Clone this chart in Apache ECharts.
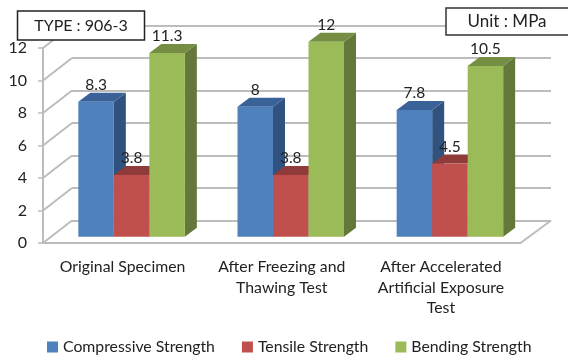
<!DOCTYPE html>
<html>
<head>
<meta charset="utf-8">
<style>
  html, body { margin: 0; padding: 0; background: #fff; }
  #chart { width: 568px; height: 360px; }
</style>
<script src="https://cdn.jsdelivr.net/npm/echarts@6/dist/echarts.min.js"></script>
</head>
<body>
<div id="chart"></div>
<script>
const categories = ['Original Specimen', 'After Freezing and\nThawing Test', 'After Accelerated\nArtificial Exposure\nTest'];
const compressive = [8.3, 8, 7.8];
const tensile = [3.8, 3.8, 4.5];
const bending = [11.3, 12, 10.5];
const yTicks = [0, 2, 4, 6, 8, 10, 12];

const font = 'Lato, sans-serif';
const textColor = '#222';
const axisColor = '#bcbcbc';

// 3d look, all in pixels
const wallDx = 29, wallDy = -22.5;
const barDx = 12, barDy = -9;
const barWidth = 35.5;

const yAxisBase = { type: 'value', min: 0, max: 12, interval: 2 };

function barSeries(name, values, index, front, top, side) {
  return {
    name: name,
    type: 'custom',
    xAxisIndex: 2,
    yAxisIndex: 2,
    itemStyle: { color: front },
    encode: { x: 0, y: 1 },
    data: values.map((v, i) => [i, v]),
    renderItem: function (params, api) {
      const base = api.coord([api.value(0), 0]);
      const head = api.coord([api.value(0), api.value(1)]);
      const x0 = base[0] + (index - 1.5) * barWidth;
      const x1 = x0 + barWidth;
      const y0 = base[1], y1 = head[1];
      return {
        type: 'group',
        children: [
          { type: 'polygon', shape: { points: [[x1, y0], [x1 + barDx, y0 + barDy], [x1 + barDx, y1 + barDy], [x1, y1]] }, style: { fill: side } },
          { type: 'polygon', shape: { points: [[x0, y1], [x0 + barDx, y1 + barDy], [x1 + barDx, y1 + barDy], [x1, y1]] }, style: { fill: top } },
          { type: 'rect', shape: { x: x0, y: y1, width: barWidth, height: y0 - y1 }, style: { fill: front } },
          {
            type: 'text',
            z2: 50,
            style: {
              x: (x0 + x1) / 2, y: y1 - 17, text: String(api.value(1)),
              align: 'center', verticalAlign: 'middle',
              font: '15.5px ' + font, fill: textColor
            }
          }
        ]
      };
    }
  };
}

const option = {
  animation: false,
  backgroundColor: '#fff',
  textStyle: { fontFamily: font },
  legend: {
    left: 47,
    top: 339,
    padding: 0,
    itemWidth: 11,
    itemHeight: 11,
    itemGap: 27,
    icon: 'rect',
    textStyle: { fontSize: 15.8, color: textColor, fontFamily: font },
    data: ['Compressive Strength', 'Tensile Strength', 'Bending Strength']
  },
  grid: [
    // front plane with the axes
    { left: 43, top: 48, width: 477.5, height: 195 },
    // back wall
    { left: 43 + wallDx, top: 48 + wallDy, width: 477.5 + 1.5, height: 195 },
    // plane the bars stand on
    { left: 52, top: 41.7, width: 477.5, height: 195 }
  ],
  xAxis: [
    {
      gridIndex: 0, type: 'category', data: categories,
      axisLine: { lineStyle: { color: axisColor, width: 2 } },
      axisTick: { length: 5, lineStyle: { color: axisColor, width: 1.5 } },
      axisLabel: { interval: 0, margin: 14, fontSize: 15.8, lineHeight: 20.5, color: textColor, fontFamily: font }
    },
    { gridIndex: 1, type: 'category', data: categories, show: false },
    { gridIndex: 2, type: 'category', data: categories, show: false }
  ],
  yAxis: [
    Object.assign({}, yAxisBase, {
      gridIndex: 0,
      axisLine: { show: true, lineStyle: { color: axisColor, width: 2 } },
      axisTick: { show: true, length: 5, lineStyle: { color: axisColor, width: 1.5 } },
      splitLine: { show: false },
      axisLabel: { margin: 16, fontSize: 16, color: textColor, fontFamily: font }
    }),
    Object.assign({}, yAxisBase, {
      gridIndex: 1,
      axisLine: { show: false },
      axisTick: { show: false },
      axisLabel: { show: false },
      splitLine: { show: true, lineStyle: { color: axisColor, width: 2 } }
    }),
    Object.assign({}, yAxisBase, { gridIndex: 2, show: false })
  ],
  series: [
    {
      // diagonals going from the front axis to the back wall
      type: 'custom',
      silent: true,
      xAxisIndex: 0,
      yAxisIndex: 0,
      encode: { y: 0 },
      data: yTicks.map(t => [t]),
      z: 1,
      renderItem: function (params, api) {
        const p = api.coord([0, api.value(0)]);
        const left = params.coordSys.x;
        const right = left + params.coordSys.width;
        const lineStyle = { stroke: axisColor, lineWidth: 2, fill: 'none' };
        const children = [
          { type: 'line', shape: { x1: left, y1: p[1], x2: left + wallDx, y2: p[1] + wallDy }, style: lineStyle }
        ];
        if (api.value(0) === 0) {
          children.push({ type: 'line', shape: { x1: right, y1: p[1], x2: right + wallDx + 1.5, y2: p[1] + wallDy }, style: lineStyle });
        }
        return { type: 'group', children: children };
      }
    },
    barSeries('Compressive Strength', compressive, 0, '#4f81bd', '#3b6298', '#30527f'),
    barSeries('Tensile Strength', tensile, 1, '#c0504d', '#8f3b39', '#7e3331'),
    barSeries('Bending Strength', bending, 2, '#9bbb59', '#758e43', '#64783a')
  ],
  graphic: [
    { type: 'rect', z: 100, shape: { x: 17.5, y: 11, width: 127, height: 29 }, style: { fill: '#fff', stroke: '#222', lineWidth: 1.5 } },
    { type: 'text', z: 101, style: { x: 81, y: 25.5, text: 'TYPE : 906-3', align: 'center', verticalAlign: 'middle', font: '16px ' + font, fill: textColor } },
    { type: 'rect', z: 100, shape: { x: 446, y: 8, width: 130, height: 27 }, style: { fill: '#fff', stroke: '#333', lineWidth: 1.5 } },
    { type: 'text', z: 101, style: { x: 507, y: 22, text: 'Unit : MPa', align: 'center', verticalAlign: 'middle', font: '17px ' + font, fill: textColor } }
  ]
};

const chart = echarts.init(document.getElementById('chart'));
chart.setOption(option);
</script>
</body>
</html>
